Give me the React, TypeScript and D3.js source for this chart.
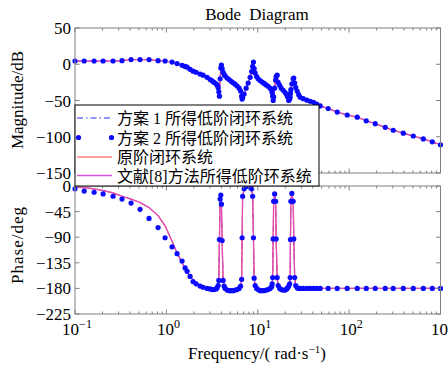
import React from "react";
import * as d3 from "d3";

// frequency grid (rad/s) of the Bode plot, shared by every series
const freq = [
  0.1, 0.126, 0.162, 0.203, 0.261, 0.327, 0.411, 0.515, 0.646, 0.811,
  0.968, 1.154, 1.31, 1.486, 1.603, 1.686, 1.818, 1.961, 2.115, 2.339,
  2.523, 2.79, 3.01, 3.167, 3.33, 3.502, 3.593, 3.683, 3.749, 3.806,
  3.875, 3.944, 4.003, 4.075, 4.178, 4.285, 4.395, 4.622, 4.861, 5.112,
  5.376, 5.655, 5.947, 6.255, 6.495, 6.661, 6.745, 6.83, 7.096, 7.464,
  7.849, 8.254, 8.572, 8.795, 8.975, 9.133, 9.365, 9.727, 10.1, 10.62,
  11.17, 11.75, 12.36, 13.0, 13.67, 14.2, 14.38, 14.56, 14.75, 14.93,
  15.31, 15.7, 15.9, 16.31, 16.73, 17.38, 18.05, 18.98, 19.95, 20.73,
  21.26, 21.81, 22.36, 22.64, 22.81, 23.04, 23.63, 24.42, 24.8, 25.37,
  26.02, 27.02, 28.05, 29.14, 31.43, 34.5, 37.5, 40.75, 44.17, 48.26,
  59.0, 74.1, 95.3, 122.7, 153.9, 193.2, 248.5, 304, 391.5, 503.5,
  648.4, 813, 1000,
];

// scheme 2 (dots), magnitude in dB
const magScheme2 = [
  4.5, 4.5, 4.5, 4.5, 4.5, 5, 6.5, 6.5, 6.5, 5,
  4.5, 3, 1, -1.5, -3, -4, -7, -9.5, -11, -13.5,
  -15, -18, -21, -23, -25, -27, -28.5, -32, -38, -44,
  -20, -5, -1, -6, -11, -14, -16, -19, -21, -23.5,
  -25.5, -27.5, -30, -33, -37, -44, -48, -46, -41, -33,
  -26, -18, -10, -3, 3, -6, -12, -17, -20, -22.5,
  -24.5, -26.5, -28.5, -30.5, -33, -36, -39, -44, -50, -45,
  -33, -22, -17, -15, -25, -29, -33, -36, -39, -42,
  -45, -50, -48, -45, -40, -35, -27, -20, -19, -26,
  -32, -37, -42, -45.5, -47.5, -49.5, -51, -52.5, -55, -57.5,
  -61, -66, -70, -73, -78, -82, -87, -91, -95, -99,
  -103, -107, -111,
];

// scheme 2 (dots), phase in degrees
const phaseScheme2 = [
  -5, -9, -11, -14, -18, -23, -30, -41, -57, -73,
  -91, -107, -119, -132, -144, -150, -159, -168, -172, -176,
  -178, -180, -181, -182, -182, -181, -179, -175, -166, -94,
  -23, -16, -32, -96, -166, -176, -180, -183, -184, -184,
  -184, -183, -182, -180, -176, -164, -91, -18, -5, -1,
  0, -2, -5, -18, -91, -162, -175, -180, -182, -184,
  -184, -184, -183, -182, -180, -177, -172, -161, -93, -27,
  -14, -27, -93, -161, -175, -180, -182, -183, -183, -181,
  -179, -176, -172, -161, -94, -27, -13, -27, -93, -161,
  -175, -179, -180, -180, -180, -180, -180, -180, -180, -180,
  -180, -180, -180, -180, -180, -180, -180, -180, -180, -180,
  -180, -180, -180,
];

// original closed loop system, phase in degrees
const phaseOriginal = [
  -2, -3, -5, -8, -12, -18, -23, -29, -38, -52,
  -70, -97, -118, -135, -145, -151, -159, -165, -170, -175,
  -178, -180, -181, -182, -182, -181, -179, -175, -166, -94,
  -23, -16, -32, -96, -166, -176, -180, -183, -184, -184,
  -184, -183, -182, -180, -176, -164, -91, -18, -5, -1,
  0, -2, -5, -18, -91, -162, -175, -180, -182, -184,
  -184, -184, -183, -182, -180, -177, -172, -161, -93, -27,
  -14, -27, -93, -161, -175, -180, -182, -183, -183, -181,
  -179, -176, -172, -161, -94, -27, -13, -27, -93, -161,
  -175, -179, -180, -180, -180, -180, -180, -180, -180, -180,
  -180, -180, -180, -180, -180, -180, -180, -180, -180, -180,
  -180, -180, -180,
];

// in the figure the magnitude curves all lie on the scheme 2 dots,
// and scheme 1 / ref [8] phase lie on the original phase
const magOriginal = magScheme2;
const magScheme1 = magScheme2;
const magRef8 = magScheme2;
const phaseScheme1 = phaseOriginal;
const phaseRef8 = phaseOriginal;

const magTicks = [50, 0, -50, -100, -150];
const phaseTicks = [0, -45, -90, -135, -180, -225];
const decades = [0.1, 1, 10, 100, 1000];
const decadeExp = ["−1", "0", "1", "2", "3"];
const legendLabels = [
  "方案 1 所得低阶闭环系统",
  "方案 2 所得低阶闭环系统",
  "原阶闭环系统",
  "文献[8]方法所得低阶环系统",
];

const left = 75;
const right = 440.5;
const magTop = 28;
const magBottom = 173;
const phTop = 186;
const phBottom = 314;

const serif = "'Liberation Serif', 'Noto Sans CJK SC', serif";
const red = "#ff4040";
const magenta = "#d850d8";
const blue = "#2a2aff";
const dotBlue = "#0a0aff";

const x = d3.scaleLog().domain([0.1, 1000]).range([left, right]);
const yMag = d3.scaleLinear().domain([-150, 50]).range([magBottom, magTop]);
const yPh = d3.scaleLinear().domain([-225, 0]).range([phBottom, phTop]);

const minorTicks: number[] = [];
decades.slice(0, -1).forEach((d) => {
  for (let k = 2; k <= 9; k++) minorTicks.push(d * k);
});

function path(values: number[], y: d3.ScaleLinear<number, number>) {
  return d3
    .line<number>()
    .x((_, i) => x(freq[i]))
    .y((d) => y(d))(values) as string;
}

function Frame({ y, ticks, top, bottom }) {
  return (
    <g stroke="#808080" strokeWidth={1} fill="none">
      <rect x={left} y={top} width={right - left} height={bottom - top} />
      {decades.map((d) => (
        <g key={d}>
          <line x1={x(d)} x2={x(d)} y1={bottom} y2={bottom - 4.5} />
          <line x1={x(d)} x2={x(d)} y1={top} y2={top + 4.5} />
        </g>
      ))}
      {minorTicks.map((d) => (
        <g key={d}>
          <line x1={x(d)} x2={x(d)} y1={bottom} y2={bottom - 2.5} />
          <line x1={x(d)} x2={x(d)} y1={top} y2={top + 2.5} />
        </g>
      ))}
      {ticks.map((t) => (
        <g key={t}>
          <line x1={left} x2={left + 4.5} y1={y(t)} y2={y(t)} />
          <line x1={right} x2={right - 4.5} y1={y(t)} y2={y(t)} />
        </g>
      ))}
    </g>
  );
}

function Curves({ y, mag, clip }) {
  const orig = mag ? magOriginal : phaseOriginal;
  const s1 = mag ? magScheme1 : phaseScheme1;
  const r8 = mag ? magRef8 : phaseRef8;
  const s2 = mag ? magScheme2 : phaseScheme2;
  return (
    <g>
      <g clipPath={`url(#${clip})`} fill="none">
        <path d={path(s1, y)} stroke={blue} strokeWidth={1} strokeDasharray="6,3,1.5,3" />
        <path d={path(orig, y)} stroke={red} strokeWidth={1.2} />
        <path d={path(r8, y)} stroke={magenta} strokeWidth={1.3} opacity={0.75} />
      </g>
      {s2.map((v, i) => (
        <circle key={i} cx={x(freq[i])} cy={y(v)} r={2.6} fill={dotBlue} />
      ))}
    </g>
  );
}

export default function App() {
  const rowY = [118, 137.5, 157, 175.5];
  return (
    <svg
      width={448}
      height={369}
      style={{ position: "absolute", left: 0, top: 0, background: "#fff" }}
      fontFamily={serif}
    >
      <defs>
        <clipPath id="clipMag">
          <rect x={left} y={magTop} width={right - left} height={magBottom - magTop} />
        </clipPath>
        <clipPath id="clipPh">
          <rect x={left} y={phTop} width={right - left} height={phBottom - phTop} />
        </clipPath>
      </defs>
      <rect x={0} y={0} width={448} height={369} fill="#fff" />

      <text x={257} y={20} textAnchor="middle" fontSize={17} wordSpacing={4}>
        Bode Diagram
      </text>

      <Curves y={yMag} mag={true} clip="clipMag" />
      <Frame y={yMag} ticks={magTicks} top={magTop} bottom={magBottom} />
      <Curves y={yPh} mag={false} clip="clipPh" />
      <Frame y={yPh} ticks={phaseTicks} top={phTop} bottom={phBottom} />

      {magTicks.map((t) => (
        <text key={t} x={71} y={yMag(t) + 6} textAnchor="end" fontSize={17}>
          {t < 0 ? `−${-t}` : t}
        </text>
      ))}
      {phaseTicks.map((t) => (
        <text key={t} x={71} y={yPh(t) + 6} textAnchor="end" fontSize={17}>
          {t < 0 ? `−${-t}` : t}
        </text>
      ))}
      {decades.map((d, i) => (
        <text key={d} x={x(d) + 2} y={335} textAnchor="middle" fontSize={17}>
          <tspan>10</tspan>
          <tspan dy={-7} fontSize={12}>
            {decadeExp[i]}
          </tspan>
        </text>
      ))}

      <text x={257} y={359} textAnchor="middle" fontSize={17}>
        <tspan>Frequency/( rad·s</tspan>
        <tspan dy={-6} fontSize={11}>
          −1
        </tspan>
        <tspan dy={6}>)</tspan>
      </text>
      <text transform="translate(23,100) rotate(-90)" textAnchor="middle" fontSize={17}>
        Magnitude/dB
      </text>
      <text transform="translate(23,245) rotate(-90)" textAnchor="middle" fontSize={17} letterSpacing={1}>
        Phase/deg
      </text>

      <g>
        <rect x={75} y={105} width={244} height={81} fill="#fff" stroke="#000" strokeWidth={1} />
        <line x1={77} x2={112} y1={rowY[0]} y2={rowY[0]} stroke={blue} strokeDasharray="6,3,1.5,3" />
        <circle cx={78.5} cy={rowY[1]} r={2.6} fill={dotBlue} />
        <circle cx={111.5} cy={rowY[1]} r={2.6} fill={dotBlue} />
        <line x1={77} x2={112} y1={rowY[2]} y2={rowY[2]} stroke={red} strokeWidth={1.2} />
        <line x1={77} x2={112} y1={rowY[3]} y2={rowY[3]} stroke={magenta} strokeWidth={1.6} />
        {legendLabels.map((l, i) => (
          <text key={l} x={117} y={rowY[i] + 6} fontSize={16}>
            {l}
          </text>
        ))}
      </g>
    </svg>
  );
}
